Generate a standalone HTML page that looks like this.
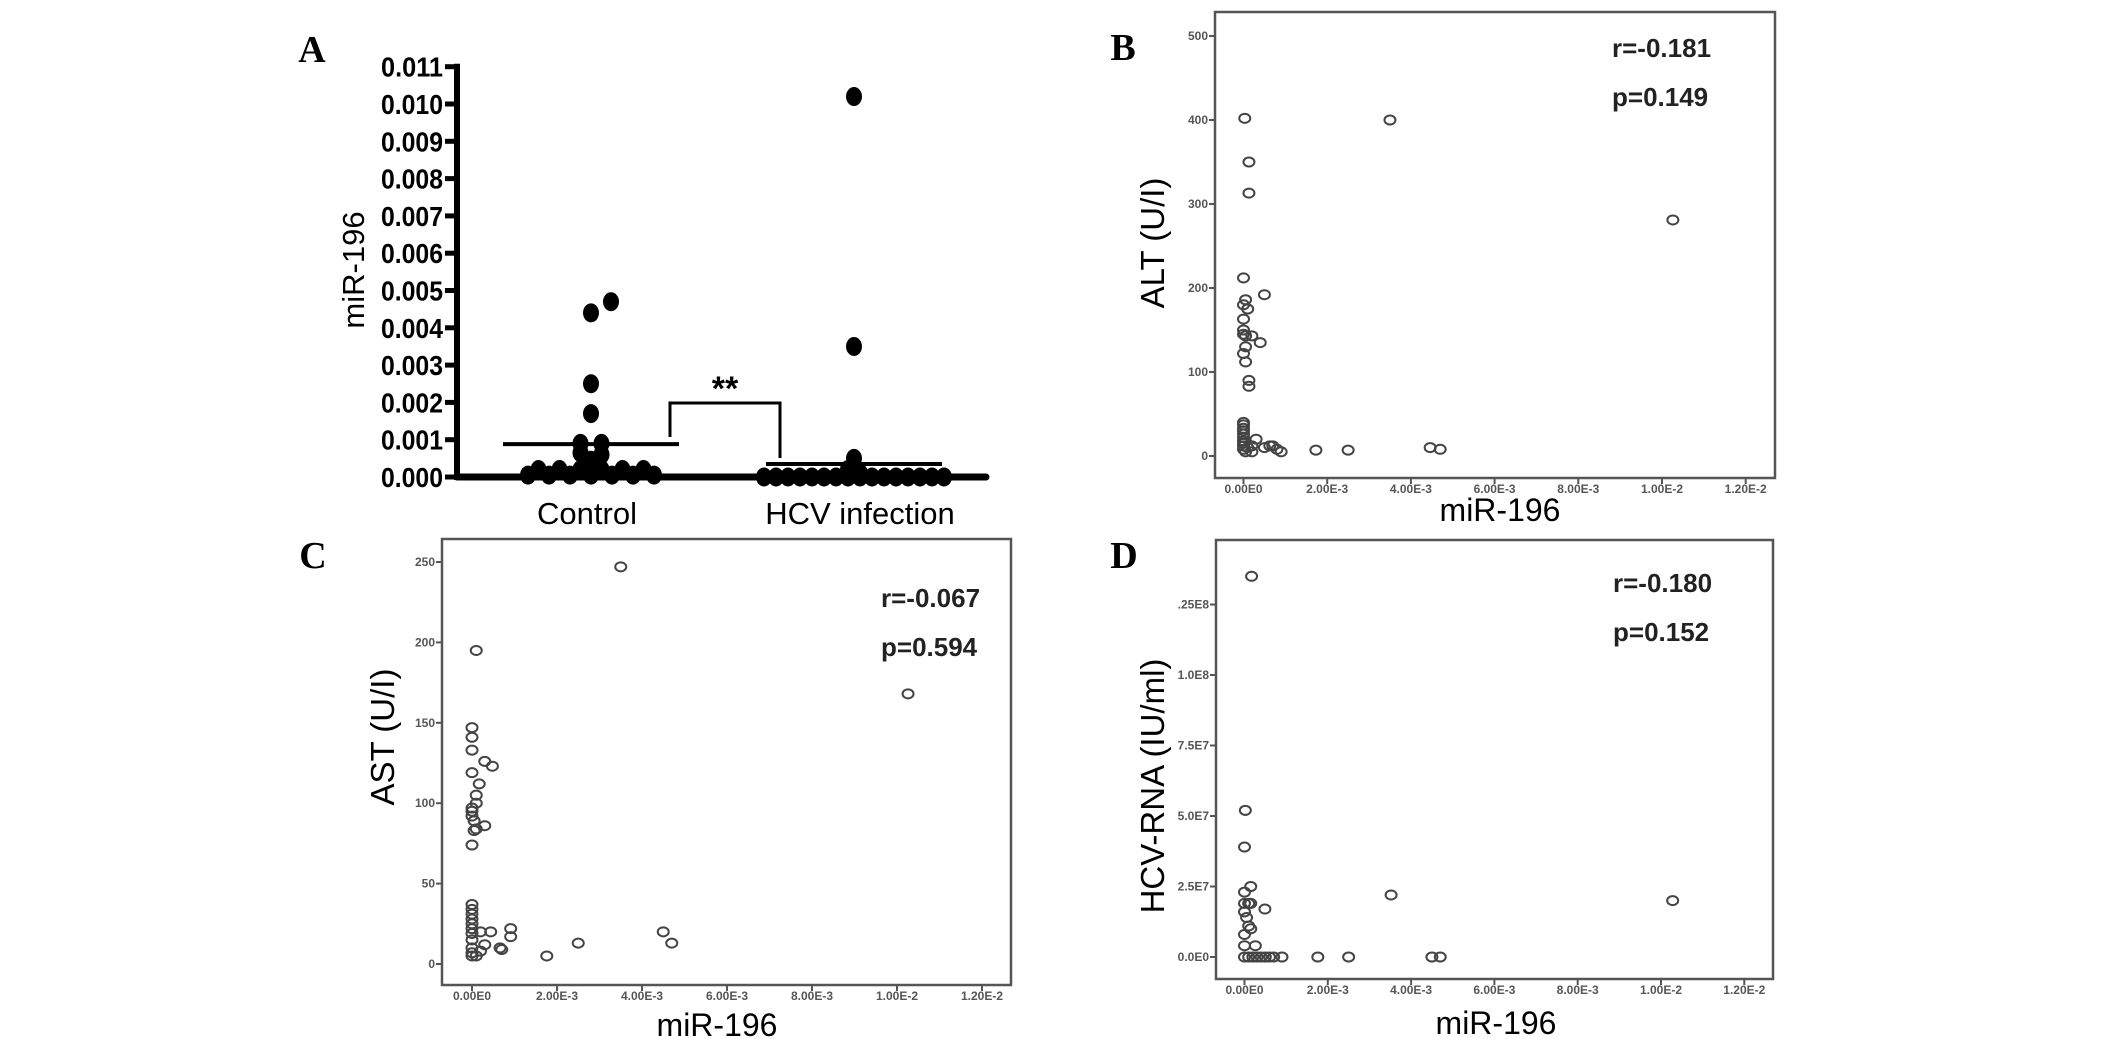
<!DOCTYPE html>
<html><head><meta charset="utf-8"><style>
html,body{margin:0;padding:0;background:#fff;}
svg{display:block;}
text{font-family:"Liberation Sans",Arial,sans-serif;}
.let{font-family:"Liberation Serif",serif;font-weight:bold;font-size:38px;}
.tk{font-size:12px;font-weight:bold;fill:#555;}
.st{font-size:26px;font-weight:bold;fill:#222;}
</style></head><body>
<svg id="fig" width="2126" height="1039" viewBox="0 0 2126 1039" xmlns="http://www.w3.org/2000/svg">
<g id="gA"></g>
<g id="gB"></g>
<g id="gC"></g>
<g id="gD"></g>
</svg>
<script>
// ---- Panel A data ----
const aTicks = ["0.000","0.001","0.002","0.003","0.004","0.005","0.006","0.007","0.008","0.009","0.010","0.011"];
const aCategories = ["Control","HCV infection"];
const controlVals = [0.0047,0.0044,0.0025,0.0017,0.0009,0.0009,0.00065,0.0006,0.00045,0.0002,0.0002,0.0002,0.0002,0.0002,0.0002,0.00005,0.00005,0.00005,0.00005,0.00005,0.00005,0.00005];
const hcvVals = [0.0102,0.0035,0.0005,0.0002,0.0001,0,0,0,0,0,0,0,0,0,0,0,0,0,0,0,0];
const aMeans = [0.00088,0.00035];

// ---- Panel B data ----
const bX = [0.00003,0.0035,0.00013,0.00013,0.01026,0,0.0005,0.00005,0,0.0001,0,0,0,0.00005,0.0002,0.0004,0.00005,0,0.00005,0.00013,0.00013,0,0,0,0,0,0,0,0,0,0,0.00005,0.0001,0.0002,0.0002,0.0003,0.0005,0.00063,0.0007,0.0008,0.0009,0.00173,0.0025,0.00446,0.0047];
const bY = [402,400,350,313,281,212,192,186,180,175,163,150,145,143,143,135,130,122,112,90,83,40,37,33,30,26,22,18,15,12,8,5,10,5,12,20,10,12,12,8,5,7,7,10,8];
const bYTicks = [0,100,200,300,400,500];
const xTicks = [0,0.002,0.004,0.006,0.008,0.010,0.012];
const xTickLabels = ["0.00E0","2.00E-3","4.00E-3","6.00E-3","8.00E-3","1.00E-2","1.20E-2"];

// ---- Panel C data ----
const cX = [0.0035,0.0001,0.01026,0,0,0,0.0003,0.00048,0,0.00017,0.0001,0.0001,0,0,0,0.00005,0.0003,0.0001,0.00005,0,0,0,0,0,0,0,0,0,0,0,0,0.0001,0.0002,0.0002,0.00044,0.0003,0.00066,0.0007,0.00091,0.00091,0.00176,0.0025,0.0045,0.0047];
const cY = [247,195,168,147,141,133,126,123,119,112,105,100,97,95,92,89,86,84,83,74,37,34,31,28,25,22,19,15,10,7,5,5,8,20,20,12,10,9,22,17,5,13,20,13];
const cYTicks = [0,50,100,150,200,250];

// ---- Panel D data ----
const dX = [0.00017,0.00002,0,0.00015,0,0.00352,0.01028,0,0.0001,0.00015,0.00049,0,0.00005,0.0001,0.00015,0,0,0.00026,0,0.0001,0.0002,0.0003,0.0004,0.0005,0.0006,0.0007,0.0009,0.00176,0.0025,0.0045,0.0047];
const dY = [1.35e8,5.2e7,3.9e7,2.5e7,2.3e7,2.2e7,2.0e7,1.9e7,1.9e7,1.9e7,1.7e7,1.6e7,1.4e7,1.1e7,1.0e7,8e6,4e6,4e6,0,0,0,0,0,0,0,0,0,0,0,0,0];
const dYTicks = [0,2.5e7,5e7,7.5e7,1e8,1.25e8];
const dYTickLabels = ["0.0E0","2.5E7","5.0E7","7.5E7","1.0E8",".25E8"];

const NS="http://www.w3.org/2000/svg";
function mk(parent,tag,attrs,txt){const e=document.createElementNS(NS,tag);for(const k in attrs)e.setAttribute(k,attrs[k]);if(txt!==undefined)e.textContent=txt;parent.appendChild(e);return e;}

// ===== Panel A =====
(function(){
  const g=document.getElementById('gA');
  const axX=457, y0=477, per=37.3;
  const yA=v=>y0-v/0.001*per;
  let t=mk(g,'text',{x:312,y:62,'text-anchor':'middle',class:'let'},'A');
  
  
  let ax=mk(g,'line',{x1:axX,y1:yA(0.011)-3,x2:axX,y2:y0+3,stroke:'#000','stroke-width':6});
  
  
  aTicks.forEach((lab,i)=>{
    const v=parseFloat(lab), y=yA(v);
    const tl=mk(g,'line',{x1:axX-12,y1:y,x2:axX,y2:y,stroke:'#000','stroke-width':5});
    
    
    const tx=mk(g,'text',{x:axX-14,y:y+10,'text-anchor':'end','font-size':28,'font-weight':'bold',textLength:62,lengthAdjust:'spacingAndGlyphs'},lab);
    
    
  });
  const yt=mk(g,'text',{x:0,y:0,'text-anchor':'middle','font-size':31,transform:'translate(364,270) rotate(-90)'},'miR-196');
  
  
  const base=mk(g,'line',{x1:axX,y1:y0,x2:986,y2:y0,stroke:'#000','stroke-width':7,'stroke-linecap':'round'});
  
  
  const centers=[591,854], halfW=[88,88];
  const groups=[controlVals,hcvVals];
  groups.forEach((vals,gi)=>{
    const cx=centers[gi];
    const rows={};
    vals.forEach(v=>{const k=Math.round(v/0.00015);(rows[k]=rows[k]||[]).push(v);});
    Object.keys(rows).forEach(k=>{
      const arr=rows[k]; const n=arr.length; const sp=gi===1?12:(n>8?16:21);
      const shift=(gi===0&&arr[0]>0.0045)?20:0;
      arr.forEach((v,j)=>{
        const x=cx+shift+(j-(n-1)/2)*sp;
        const d=mk(g,'ellipse',{cx:x,cy:yA(v),rx:8,ry:9.5,fill:'#000'});
        
        
      });
    });
    const m=mk(g,'line',{x1:cx-halfW[gi],y1:yA(aMeans[gi]),x2:cx+halfW[gi],y2:yA(aMeans[gi]),stroke:'#000','stroke-width':4});
    
    
    const cl=mk(g,'text',{x:cx-(gi?-6:4),y:524,'text-anchor':'middle','font-size':31},aCategories[gi]);
    
    
  });
  const br=mk(g,'polyline',{points:'670,437 670,403 780,403 780,458',fill:'none',stroke:'#000','stroke-width':3});
  
  
  const ss=mk(g,'text',{x:725,y:400,'text-anchor':'middle','font-size':34,'font-weight':'bold'},'**');
  
  
})();

// ===== Scatter panels =====
function scatter(gid,cfg){
  const g=document.getElementById(gid);
  const sx=v=>cfg.x0+v/0.001*cfg.xPer;
  const sy=v=>cfg.y0-(v-cfg.yTicks[0])/(cfg.yTicks[1]-cfg.yTicks[0])*cfg.yStep;
  const L=mk(g,'text',{x:cfg.letter[0],y:cfg.letter[1],'text-anchor':'middle',class:'let'},cfg.letterText);
  
  
  const box=mk(g,'rect',{x:cfg.box[0],y:cfg.box[1],width:cfg.box[2]-cfg.box[0],height:cfg.box[3]-cfg.box[1],fill:'none',stroke:'#555','stroke-width':2.5});
  
  
  cfg.yTicks.forEach((v,i)=>{
    const y=sy(v);
    const tl=mk(g,'line',{x1:cfg.box[0]-6,y1:y,x2:cfg.box[0],y2:y,stroke:'#555','stroke-width':2});
    
    
    const tx=mk(g,'text',{x:cfg.box[0]-7,y:y+4,'text-anchor':'end',class:'tk'},cfg.yLabels[i]);
    
    
  });
  xTicks.forEach((v,i)=>{
    const x=sx(v);
    const tl=mk(g,'line',{x1:x,y1:cfg.box[3],x2:x,y2:cfg.box[3]+6,stroke:'#555','stroke-width':2});
    
    
    const tx=mk(g,'text',{x:x,y:cfg.box[3]+15,'text-anchor':'middle',class:'tk'},xTickLabels[i]);
    
    
  });
  cfg.xs.forEach((xv,i)=>{
    const c=mk(g,'ellipse',{cx:sx(xv),cy:sy(cfg.ys[i]),rx:5.5,ry:4.5,fill:'none',stroke:'#444','stroke-width':2});
    
    
  });
  const xt=mk(g,'text',{x:cfg.xTitle[0],y:cfg.xTitle[1],'text-anchor':'middle','font-size':32},'miR-196');
  
  
  const yt=mk(g,'text',{x:0,y:0,'text-anchor':'middle','font-size':33,transform:`translate(${cfg.yTitle[0]},${cfg.yTitle[1]}) rotate(-90)`},cfg.yTitleText);
  
  
  const r=mk(g,'text',{x:cfg.stat[0],y:cfg.stat[1],'text-anchor':'start',class:'st','font-weight':cfg.bold?'bold':'normal'},cfg.stats[0]);
  
  
  const p=mk(g,'text',{x:cfg.stat[0],y:cfg.stat[1]+49,'text-anchor':'start',class:'st','font-weight':cfg.bold?'bold':'normal'},cfg.stats[1]);
  
  
}
scatter('gB',{letterText:'B',letter:[1123,60],box:[1215,12,1775,478],x0:1243.5,xPer:41.85,y0:456,yStep:84,
  yTicks:bYTicks,yLabels:bYTicks.map(String),xs:bX,ys:bY,xTitle:[1500,521],yTitle:[1164,243],yTitleText:'ALT (U/I)',
  stat:[1612,57],stats:['r=-0.181','p=0.149'],bold:true});
scatter('gC',{letterText:'C',letter:[313,568],box:[442,539,1011,985],x0:472,xPer:42.5,y0:964,yStep:80.4,
  yTicks:cYTicks,yLabels:cYTicks.map(String),xs:cX,ys:cY,xTitle:[717,1036],yTitle:[394,737],yTitleText:'AST (U/I)',
  stat:[881,607],stats:['r=-0.067','p=0.594'],bold:false});
scatter('gD',{letterText:'D',letter:[1124,568],box:[1216,540,1773,979],x0:1244.5,xPer:41.65,y0:957,yStep:70.5,
  yTicks:dYTicks,yLabels:dYTickLabels,xs:dX,ys:dY,xTitle:[1496,1034],yTitle:[1164,786],yTitleText:'HCV-RNA (IU/ml)',
  stat:[1613,592],stats:['r=-0.180','p=0.152'],bold:true});
</script>
</body></html>
